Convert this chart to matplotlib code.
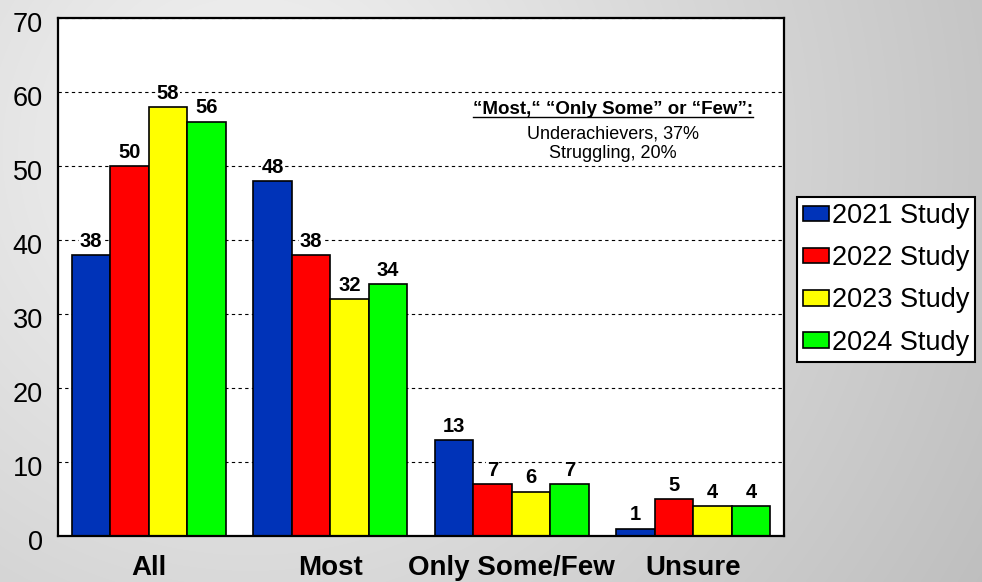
import numpy as np
import matplotlib
matplotlib.use("Agg")
import matplotlib.pyplot as plt
import matplotlib.transforms as mtransforms

# ----- data -----
categories = ["All", "Most", "Only Some/Few", "Unsure"]
series_names = ["2021 Study", "2022 Study", "2023 Study", "2024 Study"]
study_2021 = [38, 48, 13, 1]
study_2022 = [50, 38, 7, 5]
study_2023 = [58, 32, 6, 4]
study_2024 = [56, 34, 7, 4]
colors = ["#0033b8", "#ff0000", "#ffff00", "#00ff00"]

note_title = "\u201cMost,\u201c \u201cOnly Some\u201d or \u201cFew\u201d:"
note_lines = ["Underachievers, 37%", "Struggling, 20%"]

plt.rcParams["font.family"] = ["Liberation Sans", "DejaVu Sans"]

W, H = 982, 582
fig = plt.figure(figsize=(W / 100, H / 100), dpi=100)

# ----- gray gradient background -----
bg = fig.add_axes([0, 0, 1, 1], zorder=-10)
yy, xx = np.mgrid[0:H, 0:W]
dist = np.hypot(xx - 250, yy - 150)
shade = np.clip(0.96 - dist * 0.00025, 0.70, 0.97)
bg.imshow(np.dstack([shade] * 3), aspect="auto", extent=[0, 1, 0, 1])
bg.axis("off")

# ----- bars -----
ax = fig.add_axes([58 / W, 1 - 536 / H, 726 / W, 518 / H])
x = np.arange(len(categories))
width = 0.212
all_series = [study_2021, study_2022, study_2023, study_2024]
for i, (vals, col, name) in enumerate(zip(all_series, colors, series_names)):
    pos = x + (i - 1.5) * width
    bars = ax.bar(pos, vals, width, color=col, edgecolor="black", linewidth=1.2,
                  label=name, zorder=2)
    for b, v in zip(bars, vals):
        ax.annotate(str(v), (b.get_x() + b.get_width() / 2, v), xytext=(0, 3),
                    textcoords="offset points", ha="center", va="bottom",
                    fontsize=14.5, fontweight="bold", zorder=4,
                    bbox=dict(facecolor="white", edgecolor="none", pad=0.5))

ax.set_xlim(-0.5, 3.5)
ax.set_ylim(0, 70)
ax.set_yticks(range(0, 71, 10))
ax.set_xticks(x)
ax.set_xticklabels(categories, fontsize=20, fontweight="bold")
ax.tick_params(axis="y", length=0, labelsize=19.5, pad=11)
ax.tick_params(axis="x", length=0, pad=13.5)
offset = mtransforms.ScaledTranslation(0, -4 / 100, fig.dpi_scale_trans)
for lbl in ax.get_yticklabels():
    lbl.set_transform(lbl.get_transform() + offset)

ax.set_axisbelow(True)
ax.yaxis.grid(True, color="black", linestyle=(0, (3, 3)), linewidth=0.8)
for sp in ax.spines.values():
    sp.set_linewidth(1.6)
ax.set_facecolor("white")

# ----- note -----
t = ax.text(0.7645, 0.824, note_title, transform=ax.transAxes, ha="center",
            va="center", fontsize=13.5, fontweight="bold")
ax.text(0.7645, 0.776, note_lines[0], transform=ax.transAxes, ha="center",
        va="center", fontsize=13)
ax.text(0.7645, 0.7375, note_lines[1], transform=ax.transAxes, ha="center",
        va="center", fontsize=13)
fig.canvas.draw()
bb = t.get_window_extent().transformed(ax.transAxes.inverted())
ax.plot([bb.x0, bb.x1], [bb.y0 + 0.002, bb.y0 + 0.002], color="black",
        linewidth=1.0, transform=ax.transAxes, zorder=5)

# ----- legend -----
leg = fig.legend(loc="upper left", bbox_to_anchor=(797 / W, 1 - 197 / H),
                 fontsize=19.5, frameon=True, fancybox=False, edgecolor="black",
                 framealpha=1, facecolor="white",
                 handlelength=0.95, handleheight=0.5, handletextpad=0.12,
                 labelspacing=0.6, borderpad=0.22, borderaxespad=0)
leg.get_frame().set_linewidth(1.5)

fig.savefig("out.png", dpi=100)
